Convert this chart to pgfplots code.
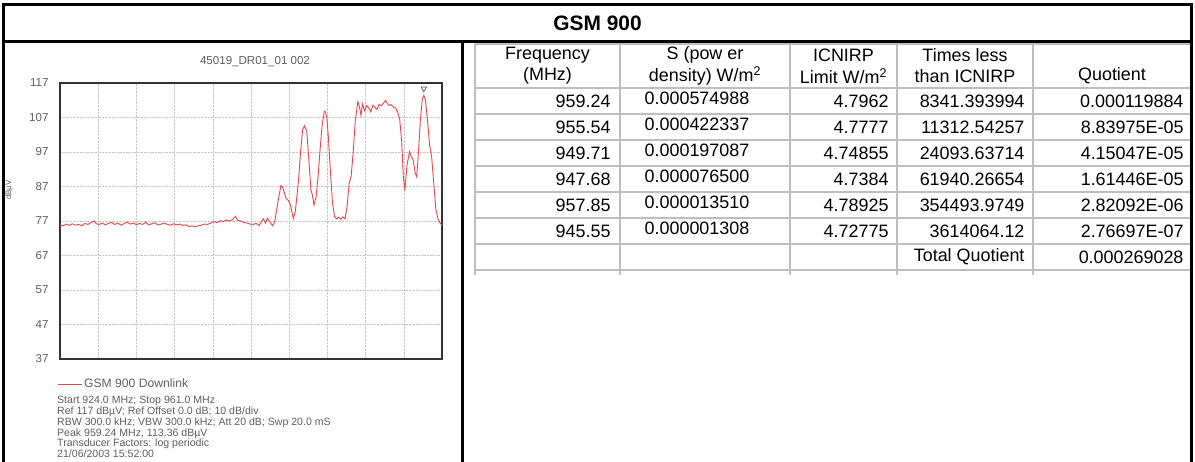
\documentclass[border=0pt]{standalone}
\usepackage{fontspec}
\setmainfont{Liberation Sans}
\usepackage{pgfplots}
\pgfplotsset{compat=1.18}
\definecolor{trace}{RGB}{232,70,72}
\definecolor{tgrid}{RGB}{190,190,190}
\definecolor{ctext}{RGB}{95,95,95}
\newcommand\tf{\fontsize{18}{20}\selectfont}
\newcommand\cf{\fontsize{11.6}{11.8}\selectfont}
\newcommand\lf{\fontsize{12.2}{12.5}\selectfont}
\newcommand\nf{\fontsize{10.6}{9.8}\selectfont}
\pgfplotstableread{
f db
924.0 75.9
924.3 75.6
924.6 76.1
924.9 75.7
925.2 76.2
925.5 75.8
925.8 76.0
926.1 75.6
926.4 76.3
926.7 76.0
927.0 76.5
927.3 77.0
927.5 76.2
927.8 76.0
928.1 76.4
928.4 75.9
928.7 76.3
929.0 76.6
929.3 76.0
929.6 76.4
929.9 75.8
930.2 76.2
930.5 76.7
930.8 76.1
931.1 76.4
931.4 75.9
931.7 76.3
932.0 76.0
932.3 76.6
932.6 75.9
932.9 76.2
933.2 76.5
933.5 75.8
933.8 76.1
934.1 76.4
934.4 76.0
934.7 75.8
935.0 76.2
935.3 75.9
935.6 76.1
935.9 75.7
936.2 75.9
936.5 75.4
936.8 75.6
937.1 75.3
937.4 75.6
937.7 75.8
938.0 76.1
938.3 76.0
938.6 76.4
938.9 76.9
939.2 76.5
939.5 77.1
939.8 76.8
940.1 77.3
940.4 77.0
940.7 77.4
941.0 78.4
941.2 77.2
941.5 77.0
941.8 76.6
942.1 76.4
942.4 76.1
942.7 76.0
943.0 76.3
943.3 75.7
943.5 76.8
943.7 77.6
943.9 76.4
944.1 77.8
944.3 76.9
944.6 75.6
944.8 76.8
945.0 80.5
945.2 84.0
945.4 87.3
945.55 86.9
945.7 85.5
945.9 83.5
946.1 83.0
946.3 81.8
946.6 77.7
946.8 80.0
947.1 88.7
947.3 97.0
947.5 103.5
947.68 104.6
947.9 103.0
948.1 95.0
948.3 86.0
948.45 84.5
948.6 81.6
948.8 84.0
949.0 90.0
949.2 98.0
949.4 105.0
949.6 108.8
949.71 108.7
949.85 107.0
950.0 101.0
950.2 91.0
950.4 82.0
950.6 78.3
950.8 77.6
951.0 78.1
951.2 77.5
951.4 78.2
951.6 77.6
951.8 81.0
952.0 87.8
952.2 90.0
952.4 97.0
952.6 106.0
952.85 111.6
953.0 110.2
953.15 107.6
953.3 110.9
953.5 108.9
953.7 110.4
953.9 109.8
954.1 108.6
954.3 110.5
954.5 110.0
954.7 109.3
954.9 110.8
955.1 110.4
955.3 111.0
955.54 112.0
955.7 111.0
955.9 110.5
956.1 110.7
956.3 110.0
956.5 109.8
956.7 108.6
956.9 106.5
957.1 100.0
957.25 90.0
957.4 85.8
957.6 93.0
957.85 97.1
958.0 95.8
958.2 94.8
958.4 91.0
958.55 89.8
958.7 96.0
958.9 106.0
959.1 112.5
959.24 113.4
959.4 112.0
959.6 106.0
959.8 99.0
960.0 95.5
960.2 88.0
960.4 80.5
960.6 77.8
960.8 76.5
961.0 75.7
}\spectrum
\begin{document}
\begin{tikzpicture}[x=1bp,y=1bp]
\path[use as bounding box] (0,0) rectangle (1195,462);
% table grid
\begin{scope}[draw=tgrid, line width=1.5bp]
\foreach \yy in {418,374,348,322,296,270,244,218,192}
  \draw (475,\yy) -- (1191,\yy);
\foreach \xx in {475,620,790,897,1033}
  \draw (\xx,418) -- (\xx,187);
\end{scope}
% frame
\draw[line width=3bp] (3.5,-5) -- (3.5,457.5) -- (1191.5,457.5) -- (1191.5,-5);
\draw[line width=3bp] (3.5,420) -- (1191.5,420);
\draw[line width=3bp] (462,420) -- (462,-5);
\node[font=\bfseries\fontsize{21}{22}\selectfont] at (597.5,439) {GSM 900};
% table header
\begin{scope}[font=\tf]
\node at (547.5,407) {Frequency};
\node at (547.5,386) {(MHz)};
\node at (705,407) {S (pow er};
\node at (705,386) {density) W/m\textsuperscript{2}};
\node at (843.5,407) {ICNIRP};
\node at (843.5,386) {Limit W/m\textsuperscript{2}};
\node at (965,407) {Times less};
\node at (965,386) {than ICNIRP};
\node at (1112,386) {Quotient};
\foreach \yy/\fa/\sa/\la/\ta/\qa in {
 361/959.24/0.000574988/4.7962/8341.393994/0.000119884,
 335/955.54/0.000422337/4.7777/11312.54257/8.83975E-05,
 309/949.71/0.000197087/4.74855/24093.63714/4.15047E-05,
 283/947.68/0.000076500/4.7384/61940.26654/1.61446E-05,
 257/957.85/0.000013510/4.78925/354493.9749/2.82092E-06,
 231/945.55/0.000001308/4.72775/3614064.12/2.76697E-07}{
  \node[anchor=east] at (614,\yy) {\fa};
  \node at (697,\yy+3) {\sa};
  \node[anchor=east] at (892,\yy) {\la};
  \node[anchor=east] at (1028,\yy) {\ta};
  \node[anchor=east] at (1187,\yy) {\qa};
}
\node[anchor=east] at (1028,205) {Total Quotient};
\node[anchor=east] at (1187,205) {0.000269028};
\end{scope}
% chart
\begin{axis}[at={(60bp,103bp)}, anchor=south west, width=382bp, height=276bp,
  scale only axis, xmin=924, xmax=961, ymin=37, ymax=117,
  xtick={924,927.7,931.4,935.1,938.8,942.5,946.2,949.9,953.6,957.3,961},
  xticklabels={}, ytick={37,47,...,117},
  grid=major, major grid style={densely dotted, line width=0.6bp, black!22},
  axis line style={line width=1.6bp, black!80}, tick style={draw=none},
  /pgf/number format/assume math mode=true,
  yticklabel style={font=\cf, text=ctext, xshift=-8bp},
  legend style={at={(0,0)}, anchor=north west, draw=none, fill=none,
    font=\lf, text=ctext, inner sep=0pt, yshift=-18bp, xshift=-3bp},
  legend image code/.code={\draw[#1] (0bp,0bp) -- (24bp,0bp);},
  clip=false]
\addplot[trace, line width=0.9bp] table[x=f, y=db] {\spectrum};
\addlegendentry{GSM 900 Downlink}
\addplot[forget plot, only marks, mark=triangle, mark size=3.2bp, black!65,
  mark options={rotate=180, line width=0.7bp}] coordinates {(959.24,115.4)};
\end{axis}
\node[font=\cf, text=ctext] at (255,400) {45019\_DR01\_01 002};
\node[font=\fontsize{8}{9}\selectfont, text=ctext, rotate=90] at (9,272) {dBµV};
\node[font=\nf, text=ctext, anchor=north west, align=left, inner sep=0pt] at (57,66)
 {Start 924.0 MHz; Stop 961.0 MHz\\
  Ref 117 dBµV; Ref Offset 0.0 dB; 10 dB/div\\
  RBW 300.0 kHz; VBW 300.0 kHz; Att 20 dB; Swp 20.0 mS\\
  Peak 959.24 MHz, 113.36 dBµV\\
  Transducer Factors: log periodic\\
  21/06/2003 15:52:00};
\end{tikzpicture}
\end{document}
